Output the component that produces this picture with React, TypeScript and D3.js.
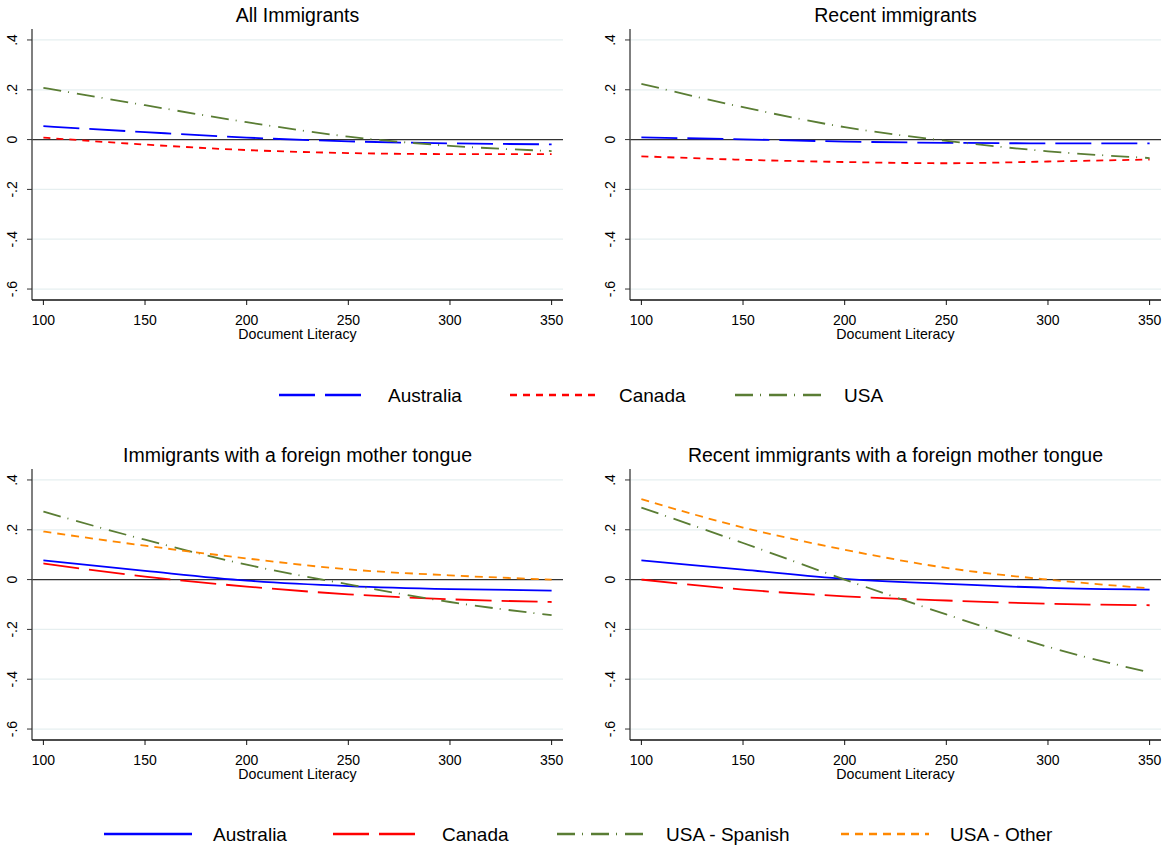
import React, { useEffect, useRef } from 'react';
import * as d3 from 'd3';

// x values where the fitted curves were read
const literacy = [100, 150, 200, 250, 300, 350];
const xTicks = [100, 150, 200, 250, 300, 350];
const yTicks = [0.4, 0.2, 0, -0.2, -0.4, -0.6];
const yTickLabels = ['.4', '.2', '0', '-.2', '-.4', '-.6'];
const xTitle = 'Document Literacy';

// All Immigrants
const allAustralia = [0.054, 0.03, 0.008, -0.007, -0.015, -0.019];
const allCanada = [0.008, -0.02, -0.042, -0.054, -0.058, -0.058];
const allUSA = [0.208, 0.138, 0.07, 0.012, -0.025, -0.046];

// Recent immigrants
const recentAustralia = [0.009, 0.001, -0.008, -0.013, -0.015, -0.015];
const recentCanada = [-0.067, -0.081, -0.09, -0.095, -0.088, -0.08];
const recentUSA = [0.224, 0.13, 0.05, -0.005, -0.047, -0.074];

// Immigrants with a foreign mother tongue
const fmtAustralia = [0.077, 0.035, -0.004, -0.026, -0.038, -0.044];
const fmtCanada = [0.065, 0.012, -0.028, -0.059, -0.079, -0.09];
const fmtSpanish = [0.273, 0.16, 0.06, -0.019, -0.09, -0.143];
const fmtOther = [0.193, 0.136, 0.085, 0.041, 0.017, 0.0];

// Recent immigrants with a foreign mother tongue
const rfmtAustralia = [0.077, 0.04, 0.003, -0.017, -0.033, -0.04];
const rfmtCanada = [0, -0.04, -0.067, -0.084, -0.097, -0.103];
const rfmtSpanish = [0.289, 0.147, 0, -0.14, -0.27, -0.373];
const rfmtOther = [0.323, 0.209, 0.12, 0.047, 0, -0.035];

const topLegend = ['Australia', 'Canada', 'USA'];
const bottomLegend = ['Australia', 'Canada', 'USA - Spanish', 'USA - Other'];

// line styles
const BLUE = '#0000ff', RED = '#ff0000', GREEN = '#5a7d34', ORANGE = '#ff8800';
const longDash = '36,10';
const shortDash = '7,6';
const dashDot = '18,7,1,8';
const orangeDash = '8,6';

const topStyles = [
  { color: BLUE, dash: longDash },
  { color: RED, dash: shortDash },
  { color: GREEN, dash: dashDot },
];
const bottomStyles = [
  { color: BLUE, dash: null },
  { color: RED, dash: longDash },
  { color: GREEN, dash: dashDot },
  { color: ORANGE, dash: orangeDash },
];

const W = 1162, H = 851;
const FONT = 'Liberation Sans, Arial, sans-serif';

const panels = [
  { title: 'All Immigrants', left: 32, top: 29, series: [allAustralia, allCanada, allUSA], styles: topStyles },
  { title: 'Recent immigrants', left: 630, top: 29, series: [recentAustralia, recentCanada, recentUSA], styles: topStyles },
  { title: 'Immigrants with a foreign mother tongue', left: 32, top: 469, series: [fmtAustralia, fmtCanada, fmtSpanish, fmtOther], styles: bottomStyles },
  { title: 'Recent immigrants with a foreign mother tongue', left: 630, top: 469, series: [rfmtAustralia, rfmtCanada, rfmtSpanish, rfmtOther], styles: bottomStyles },
];

export default function App() {
  const ref = useRef<SVGSVGElement>(null);

  useEffect(() => {
    const svg = d3.select(ref.current);
    svg.selectAll('*').remove();
    svg.append('rect').attr('width', W).attr('height', H).attr('fill', '#fff');

    const pw = 531, ph = 271;

    panels.forEach((p) => {
      const x = d3.scaleLinear().domain([94.4, 355.6]).range([p.left, p.left + pw]);
      const y = d3.scaleLinear().domain([-0.644, 0.444]).range([p.top + ph, p.top]);
      const g = svg.append('g');

      // grid
      g.selectAll('line.grid')
        .data(yTicks.filter((d) => d !== 0))
        .enter().append('line')
          .attr('x1', p.left).attr('x2', p.left + pw)
          .attr('y1', (d) => y(d)).attr('y2', (d) => y(d))
          .attr('stroke', '#e6eff0').attr('stroke-width', 1.2);

      // zero line
      g.append('line')
        .attr('x1', p.left).attr('x2', p.left + pw)
        .attr('y1', y(0)).attr('y2', y(0))
        .attr('stroke', '#333').attr('stroke-width', 1.2);

      // y axis
      g.append('line')
        .attr('x1', p.left).attr('x2', p.left)
        .attr('y1', p.top).attr('y2', p.top + ph)
        .attr('stroke', '#555').attr('stroke-width', 1.5);
      yTicks.forEach((t, i) => {
        g.append('line')
          .attr('x1', p.left - 5).attr('x2', p.left)
          .attr('y1', y(t)).attr('y2', y(t))
          .attr('stroke', '#333').attr('stroke-width', 1);
        g.append('text')
          .attr('transform', `translate(${p.left - 15},${y(t)}) rotate(-90)`)
          .attr('text-anchor', 'middle')
          .attr('font-family', FONT).attr('font-size', 14)
          .text(yTickLabels[i]);
      });

      // x axis
      g.append('line')
        .attr('x1', p.left).attr('x2', p.left + pw)
        .attr('y1', p.top + ph).attr('y2', p.top + ph)
        .attr('stroke', '#111').attr('stroke-width', 1.5);
      xTicks.forEach((t) => {
        g.append('line')
          .attr('x1', x(t)).attr('x2', x(t))
          .attr('y1', p.top + ph).attr('y2', p.top + ph + 5)
          .attr('stroke', '#111').attr('stroke-width', 1);
        g.append('text')
          .attr('x', x(t)).attr('y', p.top + ph + 25)
          .attr('text-anchor', 'middle')
          .attr('font-family', FONT).attr('font-size', 14)
          .text(t);
      });
      g.append('text')
        .attr('x', p.left + pw / 2).attr('y', p.top + ph + 39)
        .attr('text-anchor', 'middle')
        .attr('font-family', FONT).attr('font-size', 14.2)
        .text(xTitle);

      // title
      g.append('text')
        .attr('x', p.left + pw / 2).attr('y', p.top - 7)
        .attr('text-anchor', 'middle')
        .attr('font-family', FONT).attr('font-size', 19.5)
        .text(p.title);

      const line = d3.line<number>()
        .x((_, i) => x(literacy[i]))
        .y((d) => y(d))
        .curve(d3.curveMonotoneX);

      p.series.forEach((vals, i) => {
        const st = p.styles[i];
        g.append('path')
          .attr('d', line(vals))
          .attr('fill', 'none')
          .attr('stroke', st.color)
          .attr('stroke-width', 1.8)
          .attr('stroke-dasharray', st.dash);
      });
    });

    // legends
    const drawLegend = (labels: string[], styles: any[], lineX: number[], yPos: number) => {
      labels.forEach((lab, i) => {
        const st = styles[i];
        svg.append('line')
          .attr('x1', lineX[i]).attr('x2', lineX[i] + 88)
          .attr('y1', yPos).attr('y2', yPos)
          .attr('stroke', st.color).attr('stroke-width', 2.4)
          .attr('stroke-dasharray', st.dash);
        svg.append('text')
          .attr('x', lineX[i] + 109).attr('y', yPos + 7)
          .attr('font-family', FONT).attr('font-size', 19)
          .text(lab);
      });
    };
    drawLegend(topLegend, topStyles, [279, 510, 735], 395);
    drawLegend(bottomLegend, bottomStyles, [104, 333, 557, 841], 834);
  }, []);

  return (
    <svg ref={ref} width={W} height={H} style={{ position: 'absolute', left: 0, top: 0 }} />
  );
}
